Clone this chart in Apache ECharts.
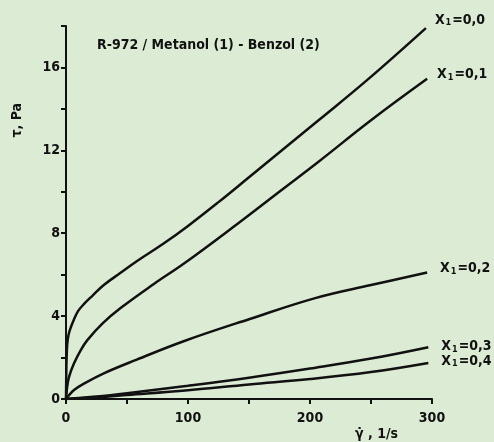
<!DOCTYPE html>
<html>
<head>
<meta charset="utf-8">
<script src="https://cdn.jsdelivr.net/npm/echarts@6/dist/echarts.min.js"></script>
<style>
html,body{margin:0;padding:0;background:#dcebd3;}
#chart{width:494px;height:442px;}
</style>
</head>
<body>
<div id="chart"></div>
<script>
// Data (shear rate 1/s, shear stress Pa)
const seriesNames = ['X1=0,0', 'X1=0,1', 'X1=0,2', 'X1=0,3', 'X1=0,4'];
const x00 = [[0,0],[0.3,1.5],[0.7,2.3],[1.5,2.9],[3,3.3],[6.6,3.85],[10,4.25],[15,4.6],[22,5.0],[31,5.5],[45,6.1],[58,6.65],[80,7.5],[100,8.35],[125,9.5],[150,10.7],[177,12.0],[207,13.45],[246,15.35],[295,17.9]];
const x01 = [[0,0],[1,0.6],[2.5,1.07],[6.6,1.72],[12,2.35],[17.5,2.84],[30,3.65],[45,4.4],[72,5.55],[97,6.55],[136,8.25],[177,10.1],[207,11.45],[250,13.45],[296,15.45]];
const x02 = [[0,0],[2,0.15],[6.6,0.43],[15,0.75],[31,1.24],[58,1.9],[97,2.8],[150,3.85],[205,4.88],[250,5.5],[296,6.1]];
const x03 = [[0,0],[25,0.12],[50,0.28],[100,0.64],[150,1.03],[200,1.47],[250,1.95],[297,2.5]];
const x04 = [[0,0],[25,0.08],[50,0.19],[100,0.42],[150,0.7],[200,0.96],[250,1.3],[297,1.74]];
const labelSuffix = ['=0,0', '=0,1', '=0,2', '=0,3', '=0,4'];
const yLabelTicks = [0, 4, 8, 12, 16];
const xLabelTicks = [0, 100, 200, 300];
const titleText = 'R-972 / Metanol (1) - Benzol (2)';
const yName = 'τ, Pa';
const xName = 'γ̇ , 1/s';

const FONT = '"DejaVu Sans Condensed", "Liberation Sans Narrow", "DejaVu Sans", sans-serif';
const INK = '#111';
const allData = [x00, x01, x02, x03, x04];
const labelOffsets = [[1,-8],[2,-4],[5,-4],[5,-1],[5,-2]];

const chart = echarts.init(document.getElementById('chart'));
chart.setOption({
  backgroundColor: '#dcebd3',
  animation: false,
  grid: {left: 66, right: 62, top: 26, bottom: 43},
  title: {
    text: titleText, left: 92, top: 33,
    textStyle: {fontFamily: FONT, fontSize: 14, fontWeight: 'bold', color: INK}
  },
  graphic: [
    {type: 'text', left: 10, top: 103, rotation: Math.PI / 2,
     style: {text: yName, font: 'bold 14px ' + FONT, fill: INK}},
    {type: 'text', left: 355, top: 427,
     style: {text: xName, font: 'bold 14px ' + FONT, fill: INK}}
  ],
  xAxis: {
    type: 'value', min: 0, max: 300, interval: 50,
    axisLine: {show: true, lineStyle: {color: INK, width: 2}},
    axisTick: {show: true, length: 5, lineStyle: {color: INK, width: 2}},
    splitLine: {show: false},
    axisLabel: {
      color: INK, fontFamily: FONT, fontSize: 14, fontWeight: 'bold', margin: 12,
      formatter: v => xLabelTicks.indexOf(v) >= 0 ? String(v) : ''
    }
  },
  yAxis: {
    type: 'value', min: 0, max: 18, interval: 2,
    axisLine: {show: true, lineStyle: {color: INK, width: 2}},
    axisTick: {show: true, length: 5, lineStyle: {color: INK, width: 2}},
    splitLine: {show: false},
    axisLabel: {
      color: INK, fontFamily: FONT, fontSize: 14, fontWeight: 'bold', margin: 6,
      formatter: v => yLabelTicks.indexOf(v) >= 0 ? String(v) : ''
    }
  },
  series: allData.map((d, i) => ({
    name: seriesNames[i],
    type: 'line',
    data: d,
    smooth: 0.4,
    showSymbol: false,
    lineStyle: {color: INK, width: 2.5},
    endLabel: {
      show: true,
      offset: labelOffsets[i],
      formatter: () => '{a|X}{s|1}{a|' + labelSuffix[i] + '}',
      rich: {
        a: {fontFamily: FONT, fontSize: 14, fontWeight: 'bold', color: INK},
        s: {fontFamily: FONT, fontSize: 9, fontWeight: 'bold', color: INK, padding: [6, 1, 0, 1]}
      }
    }
  }))
});
</script>
</body>
</html>
